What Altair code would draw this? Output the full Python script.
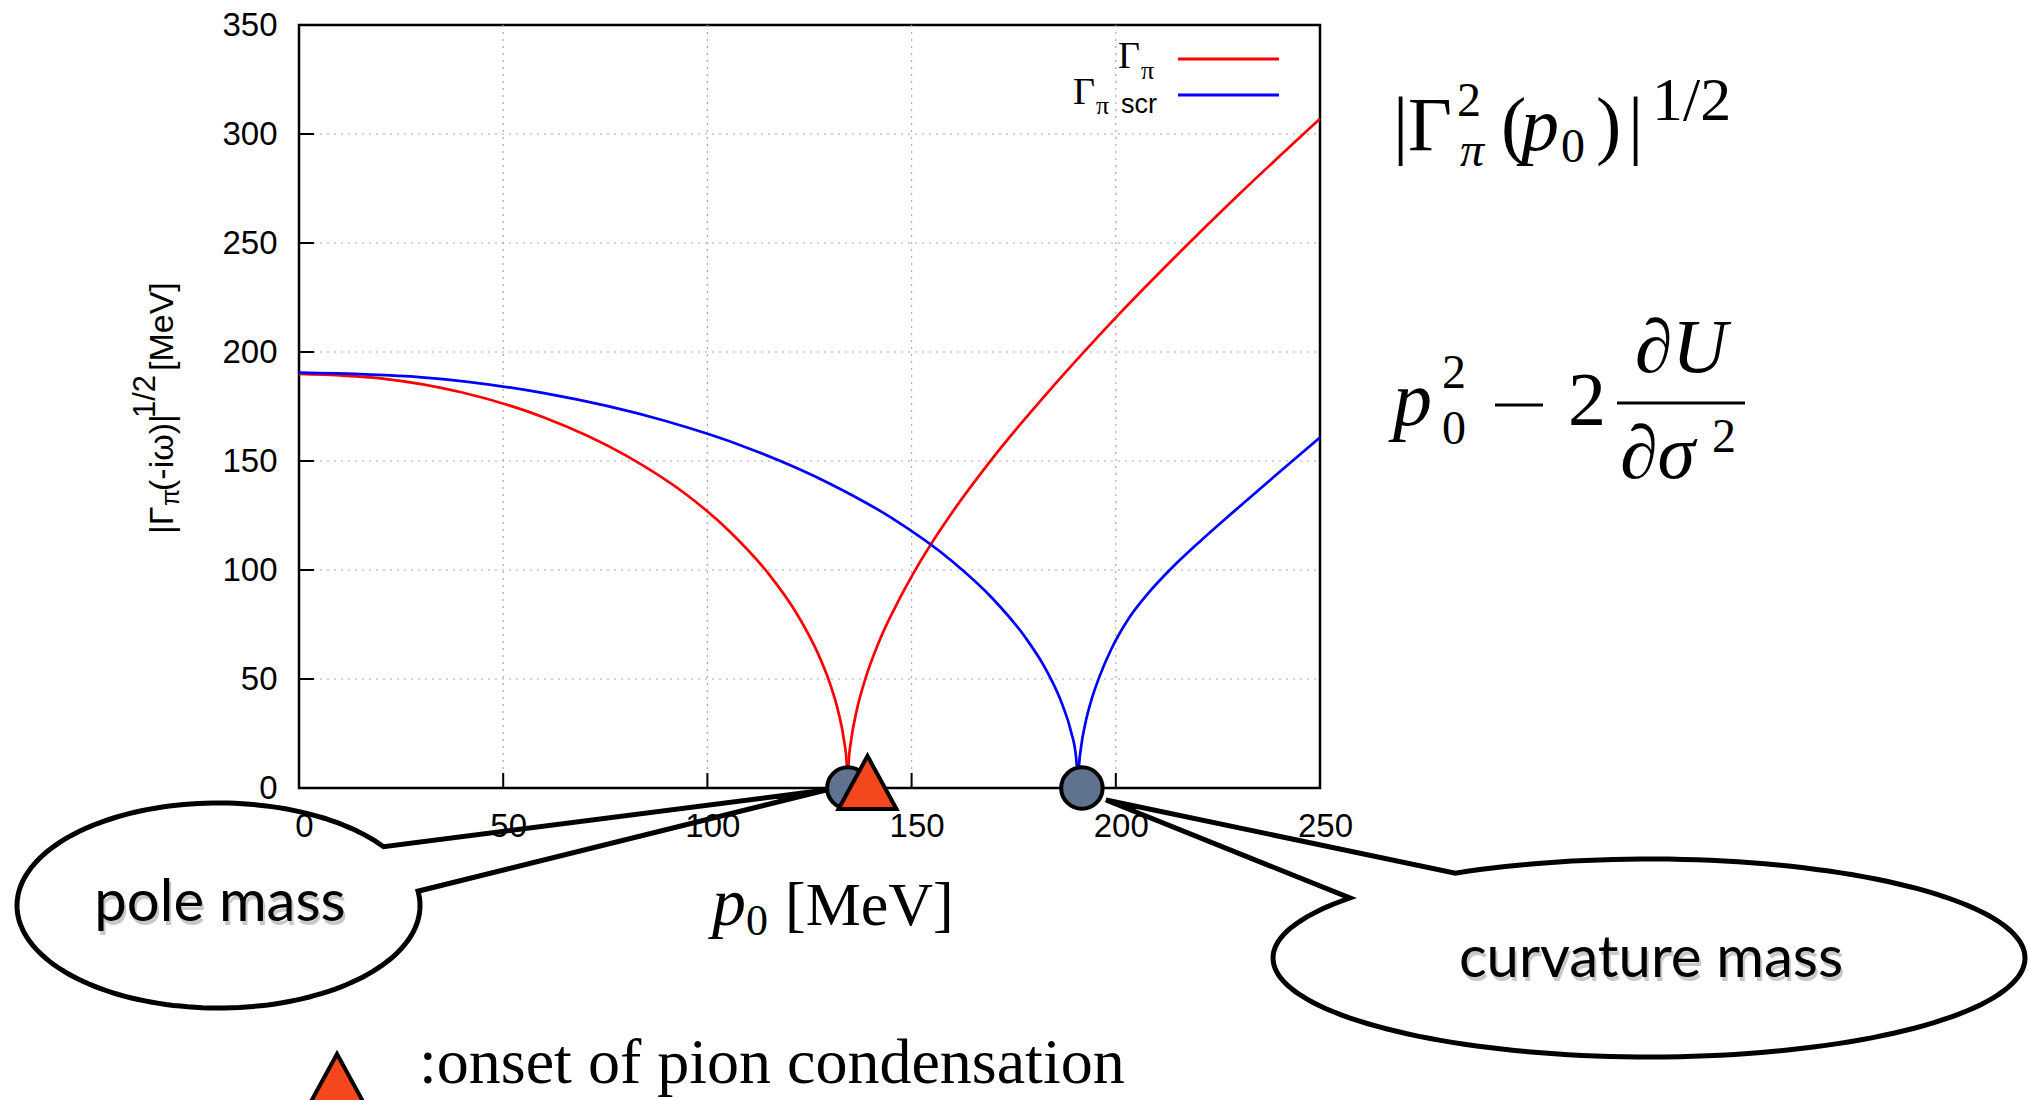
import altair as alt
import numpy as np
import pandas as pd

# ---------------- data ----------------
X_TICKS = [0, 50, 100, 150, 200, 250]
Y_TICKS = [0, 50, 100, 150, 200, 250, 300, 350]
X_GRID = [50, 100, 150, 200]
Y_GRID = [50, 100, 150, 200, 250, 300]

SERIES = ["Γπ", "Γπ scr"]
COLORS = ["#ff0000", "#0000ff"]

RED_X = [0, 20, 40, 60, 80, 95, 105, 115, 122, 127, 130, 132, 133.5, 134.1, 134.35,
         134.6, 135.2, 136.5, 138.5, 142, 146, 152, 160, 170, 185, 200, 215, 230, 250]
RED_Y = [190.0, 187.9, 181.4, 170.0, 152.6, 134.4, 118.5, 98.2, 79.6, 62.0, 48.0, 35.4, 21.3, 11.6, 0,
         11.9, 22.0, 35.1, 49.0, 67.0, 83.0, 103.5, 126.6, 151.7, 185.0, 215.8, 244.5, 272.0, 307.0]

BLUE_X = [0, 30, 60, 90, 110, 130, 145, 160, 170, 178, 183, 187, 189, 190.3, 190.8,
          191.0, 191.5, 192.5, 194, 196, 199, 203, 208, 214, 221, 229, 239, 250]
BLUE_Y = [190.5, 188.4, 181.1, 168.2, 155.9, 139.6, 124.0, 103.9, 86.6, 68.7, 54.0, 37.8, 26.1, 13.6, 0,
          10.1, 18.8, 29.3, 40.2, 51.1, 64.1, 77.3, 89.5, 101.5, 113.8, 127.0, 143.2, 160.8]

MASS_X = [134.4, 191.7]      # pole mass, curvature mass (circles)
ONSET_X = [139.2]            # onset of pion condensation (triangle)

# ---------------- layout (page pixels) ----------------
X0, Y0, W, H = 299, 25, 1021, 763
XMAX, YMAX = 250, 350
SX, SY = W / XMAX, H / YMAX
TICK_PX = 15


def dx(px):
    return (px - X0) / SX


def dy(py):
    return (Y0 + H - py) / SY


xscale = alt.Scale(domain=[0, XMAX], nice=False, zero=False)
yscale = alt.Scale(domain=[0, YMAX], nice=False, zero=False)
LABEL_FONT = "Liberation Sans"
SERIF = "Liberation Serif"

x_axis = alt.Axis(values=X_TICKS, ticks=False, domain=False, grid=False, title=None,
                  labelFont=LABEL_FONT, labelFontSize=33, labelPadding=22, labelFlush=False,
                  labelOffset=5, labelColor="black", zindex=1)
y_axis = alt.Axis(values=Y_TICKS, ticks=False, domain=False, grid=False, title=None,
                  labelFont=LABEL_FONT, labelFontSize=33, labelPadding=22, labelFlush=False,
                  labelColor="black", zindex=1)


def X(f):
    return alt.X(f, type="quantitative", scale=xscale, axis=x_axis)


def Y(f):
    return alt.Y(f, type="quantitative", scale=yscale, axis=y_axis)


# ---------------- curves ----------------
def branches(xs, ys, name):
    i0 = int(np.argmin(ys))
    rows = []
    for i, (x, y) in enumerate(zip(xs, ys)):
        if i <= i0:
            rows.append({"x": x, "y": y, "series": name, "branch": name + "a", "o": i})
        if i >= i0:
            rows.append({"x": x, "y": y, "series": name, "branch": name + "b", "o": i})
    return rows


curves = pd.DataFrame(branches(RED_X, RED_Y, SERIES[0]) + branches(BLUE_X, BLUE_Y, SERIES[1]))

grid_y = alt.Chart(pd.DataFrame({"v": Y_GRID})).mark_rule(
    color="#a8a8a8", strokeDash=[2, 5], strokeWidth=1.2
).encode(y=Y("v"), x=alt.value(0), x2=alt.value(W))
grid_x = alt.Chart(pd.DataFrame({"v": X_GRID})).mark_rule(
    color="#a8a8a8", strokeDash=[2, 5], strokeWidth=1.2
).encode(x=X("v"), y=alt.value(0), y2=alt.value(H))

ticks_x = alt.Chart(pd.DataFrame({"v": X_TICKS})).mark_rule(color="black", strokeWidth=2).encode(
    x=X("v"), y=alt.value(H), y2=alt.value(H - TICK_PX))
ticks_y = alt.Chart(pd.DataFrame({"v": Y_TICKS})).mark_rule(color="black", strokeWidth=2).encode(
    y=Y("v"), x=alt.value(0), x2=alt.value(TICK_PX))

lines = alt.Chart(curves).mark_line(strokeWidth=2.7, interpolate="monotone").encode(
    x=X("x"), y=Y("y"),
    color=alt.Color("series:N", scale=alt.Scale(domain=SERIES, range=COLORS), legend=None),
    detail="branch:N", order="o:Q")


# ---------------- speech bubbles ----------------
def bubble_path(rx, ry, tip, t_start, t_end, n=160):
    ts = np.radians(np.linspace(t_start, t_end, n))
    pts = [f"{rx * np.cos(t):.1f},{-ry * np.sin(t):.1f}" for t in ts]
    return f"M{tip[0]:.1f},{tip[1]:.1f}L" + "L".join(pts) + "Z"


BUBBLES = [
    # center (px), rx, ry, tip (px), start angle, end angle
    ((218.5, 905.5), 201.5, 102.5, (826, 790), 35, 368),
    ((1649, 958), 376, 99, (1106, 800), 121, -217.3),
]

bubble_layers = []
for (cx, cy), rx, ry, (tx, ty), t0, t1 in BUBBLES:
    path = bubble_path(rx, ry, (tx - cx, ty - cy), t0, t1)
    bubble_layers.append(
        alt.Chart(pd.DataFrame({"x": [dx(cx)], "y": [dy(cy)]})).mark_point(
            shape=path, size=4, filled=True, fill="white", stroke="black", strokeWidth=5,
            opacity=1, fillOpacity=1, strokeOpacity=1, strokeJoin="miter"
        ).encode(x=X("x"), y=Y("y"))
    )

# ---------------- markers ----------------
circles = alt.Chart(pd.DataFrame({"x": MASS_X, "y": [0, 0]})).mark_point(
    shape="circle", size=1720, filled=True, fill="#5f7390", stroke="black", strokeWidth=4,
    opacity=1, fillOpacity=1, strokeOpacity=1
).encode(x=X("x"), y=Y("y"))

TRI = "M0,-32L29,21L-29,21Z"
tri = alt.Chart(pd.DataFrame({"x": ONSET_X, "y": [0]})).mark_point(
    shape=TRI, size=4, filled=True, fill="#f4471b", stroke="black", strokeWidth=4,
    opacity=1, fillOpacity=1, strokeOpacity=1, strokeJoin="miter"
).encode(x=X("x"), y=Y("y"))

tri_key = alt.Chart(pd.DataFrame({"x": [dx(337)], "y": [dy(1086)]})).mark_point(
    shape=TRI, size=4, filled=True, fill="#f4471b", stroke="black", strokeWidth=4,
    opacity=1, fillOpacity=1, strokeOpacity=1, strokeJoin="miter"
).encode(x=X("x"), y=Y("y"))


# ---------------- texts ----------------
def text_layer(rows, **props):
    df = pd.DataFrame({"x": [dx(r[0]) for r in rows], "y": [dy(r[1]) for r in rows],
                       "t": [r[2] for r in rows], "s": [r[3] for r in rows]})
    base = dict(align="left", baseline="alphabetic", color="black")
    base.update(props)
    return alt.Chart(df).mark_text(**base).encode(
        x=X("x"), y=Y("y"), text="t:N", size=alt.Size("s:Q", scale=None, legend=None))


YTITLE = [(173, 534, "|Γ", 34), (179, 506, "π", 25), (173, 491, "(-iω)|", 34),
          (155, 418, "1/2", 31), (173, 371, "[MeV]", 34)]
LEGEND_SERIF = [(1118, 68, "Γ", 38), (1073, 104, "Γ", 38), (1141, 79, "π", 26), (1096, 114, "π", 26)]
LEGEND_SANS = [(1121, 113, "scr", 27)]
XTITLE_IT = [(712, 925, "p", 68)]
XTITLE = [(746, 935, "0", 44), (785, 925, "[MeV]", 62)]
F1 = [(1393, 150, "|", 76), (1408, 150, "Γ", 76), (1457, 116, "2", 48), (1501, 150, "(", 76),
      (1561, 162, "0", 48), (1596, 150, ")", 76), (1628, 150, "|", 76), (1652, 120, "1/2", 62)]
F1_IT = [(1460, 166, "π", 48), (1521, 150, "p", 76)]
F2 = [(1442, 388, "2", 48), (1442, 444, "0", 48), (1568, 425, "2", 76),
      (1712, 452, "2", 48)]
F2_IT = [(1393, 425, "p", 78), (1620, 478, "∂σ", 76)]
F2_IT_C = [(1681, 372, "∂U", 76)]
KEY_TEXT = [(419, 1083, ":onset of pion condensation", 64)]
BUBBLE_TEXT = [(220, 921, "pole mass", 58), (1651, 977, "curvature mass", 58)]
BUBBLE_SHADOW = [(x + 2, y + 4, t, s) for x, y, t, s in BUBBLE_TEXT]

texts = [
    text_layer(YTITLE, font=LABEL_FONT, angle=270),
    text_layer(LEGEND_SERIF, font=SERIF),
    text_layer(LEGEND_SANS, font=LABEL_FONT),
    text_layer(XTITLE_IT, font=SERIF, fontStyle="italic"),
    text_layer(XTITLE, font=SERIF),
    text_layer(F1, font=SERIF),
    text_layer(F1_IT, font=SERIF, fontStyle="italic"),
    text_layer(F2, font=SERIF),
    text_layer(F2_IT, font=SERIF, fontStyle="italic"),
    text_layer(F2_IT_C, font=SERIF, fontStyle="italic", align="center"),
    text_layer(KEY_TEXT, font=SERIF),
    text_layer(BUBBLE_SHADOW, font="Lato", align="center", color="#777777", opacity=0.4),
    text_layer(BUBBLE_TEXT, font="Lato", align="center", color="black"),
]

LEGEND_LINES = pd.DataFrame({"x": [dx(1178)] * 2, "x2": [dx(1279)] * 2,
                             "y": [dy(59), dy(95)], "series": SERIES})
legend_lines = alt.Chart(LEGEND_LINES).mark_rule(strokeWidth=3).encode(
    x=X("x"), x2="x2:Q", y=Y("y"),
    color=alt.Color("series:N", scale=alt.Scale(domain=SERIES, range=COLORS), legend=None))

# fraction bar and minus sign of the formula p0^2 - 2 dU/dsigma^2
RULES = pd.DataFrame({"x": [dx(1617), dx(1495)], "x2": [dx(1745), dx(1543)],
                      "y": [dy(403), dy(405)]})
formula_rules = alt.Chart(RULES).mark_rule(strokeWidth=3.2, color="black").encode(
    x=X("x"), x2="x2:Q", y=Y("y"))

layers = [grid_y, grid_x, ticks_x, ticks_y, lines, legend_lines] + bubble_layers + \
         [circles, tri, tri_key, formula_rules] + texts

chart = alt.layer(*layers).properties(
    width=W, height=H,
    autosize=alt.AutoSizeParams(type="none"),
    padding={"left": X0, "top": Y0, "right": 2028 - X0 - W, "bottom": 1100 - Y0 - H},
    background="white",
).configure_view(stroke="black", strokeWidth=2.5)

chart.save("out.html", embed_options={"renderer": "svg", "actions": False})
